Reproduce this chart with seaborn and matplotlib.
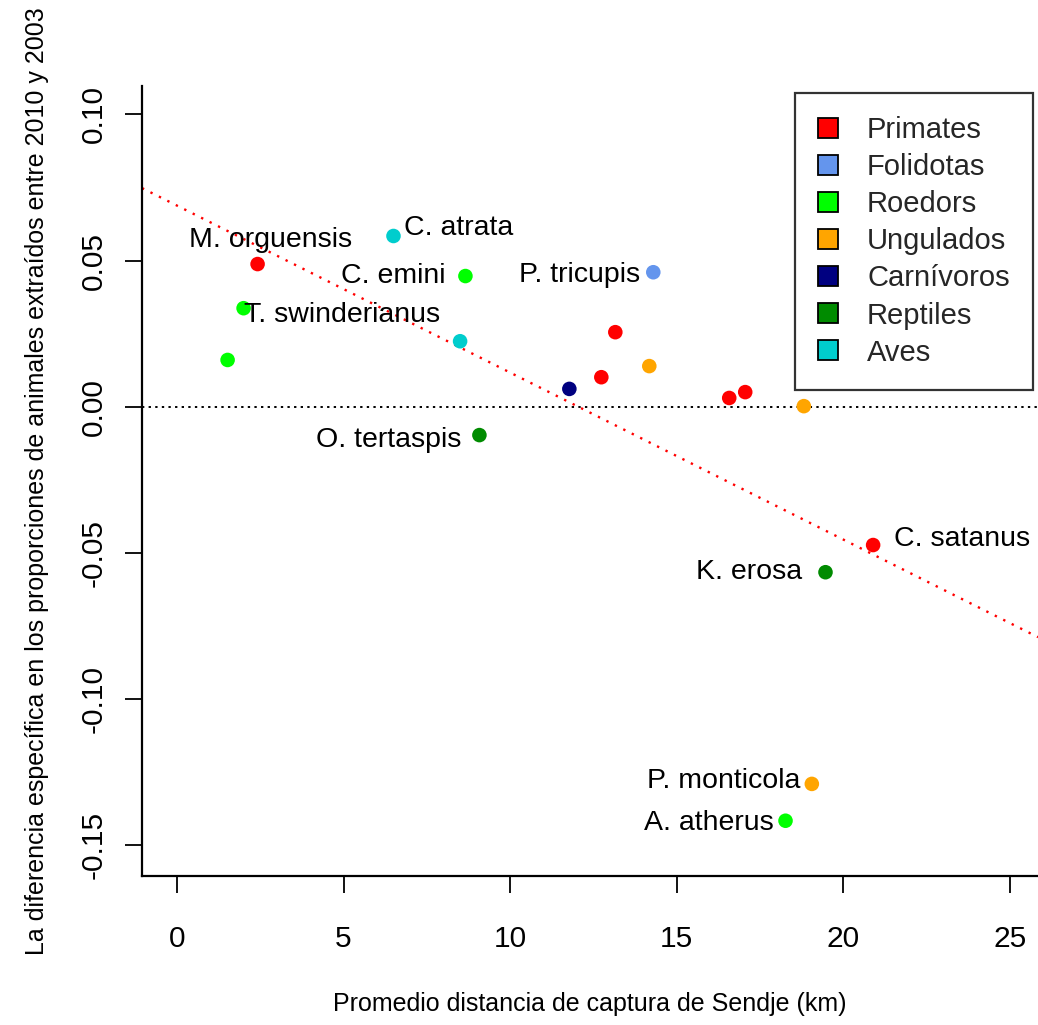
import matplotlib
matplotlib.use("Agg")
import matplotlib.pyplot as plt
from matplotlib.patches import Patch, Rectangle
from matplotlib.legend_handler import HandlerPatch
import seaborn as sns
import pandas as pd

# Mean capture distance from Sendje (km) and change in extracted proportion
distance_km = [2.42, 6.5, 8.66, 14.3, 2.0, 1.52, 8.5, 13.16, 14.18, 12.74,
               11.78, 16.58, 17.06, 18.82, 9.08, 20.9, 19.47, 19.06, 18.27]
prop_change = [0.0488, 0.0584, 0.0447, 0.0460, 0.0337, 0.0160, 0.0224, 0.0255,
               0.0139, 0.0101, 0.0061, 0.0030, 0.0050, 0.0002, -0.0097,
               -0.0473, -0.0566, -0.1290, -0.1416]
group = ["Primates", "Aves", "Roedors", "Folidotas", "Roedors", "Roedors", "Aves",
         "Primates", "Ungulados", "Primates", "Carnívoros", "Primates", "Primates",
         "Ungulados", "Reptiles", "Primates", "Reptiles", "Ungulados", "Roedors"]
species = ["M. orguensis", "C. atrata", "C. emini", "P. tricupis", "T. swinderianus",
           "", "", "", "", "", "", "", "", "", "O. tertaspis", "C. satanus",
           "K. erosa", "P. monticola", "A. atherus"]

groups = ["Primates", "Folidotas", "Roedors", "Ungulados", "Carnívoros", "Reptiles", "Aves"]
group_colors = ["#FF0000", "#6495ED", "#00FF00", "#FFA500", "#000080", "#008B00", "#00CDCD"]

# Linear fit of change against distance
fit_intercept = 0.0688
fit_slope = -0.00571

df = pd.DataFrame({"dist": distance_km, "change": prop_change, "group": group,
                   "species": species})

sns.set_theme(style="white")
plt.rcParams["font.family"] = ["Liberation Sans", "DejaVu Sans"]

W, H = 1038, 1025
fig = plt.figure(figsize=(W / 100, H / 100), dpi=100)
ax = fig.add_axes([142 / W, 1 - 876 / H, 1 - 142 / W, (876 - 86) / H])

sns.scatterplot(data=df, x="dist", y="change", hue="group", hue_order=groups,
                palette=dict(zip(groups, group_colors)), s=110, linewidth=0,
                legend=False, ax=ax, zorder=3)

ax.axhline(0, color="black", linestyle=(0, (1.2, 2.2)), linewidth=1.4, zorder=1)
ax.axline((0, fit_intercept), slope=fit_slope, color="#FF0000",
          linestyle=(0, (1.0, 3.0)), linewidth=1.7, zorder=1)

# Species names beside their points: (ha, dx, dy) in pixels
label_offsets = {
    "M. orguensis": ("right", 95, 24),
    "C. atrata": ("left", 11, 8),
    "C. emini": ("right", -20, 0),
    "P. tricupis": ("right", -13, -3),
    "T. swinderianus": ("left", 0, -7),
    "O. tertaspis": ("right", -18, -5),
    "C. satanus": ("left", 21, 6),
    "K. erosa": ("right", -23, 0),
    "P. monticola": ("right", -11, 3),
    "A. atherus": ("right", -12, -2),
}
for x, y, name in zip(distance_km, prop_change, species):
    if not name:
        continue
    ha, dx, dy = label_offsets[name]
    ax.annotate(name, (x, y), xytext=(dx * 0.72, dy * 0.72), textcoords="offset points",
                ha=ha, va="center", fontsize=20.5, color="black")

ax.set_xlim(-1.05, 25.85)
ax.set_ylim(-0.1605, 0.1097)
ax.set_xticks([0, 5, 10, 15, 20, 25])
ax.set_xticklabels(["0", "5", "10", "15", "20", "25"])
ax.set_yticks([-0.15, -0.10, -0.05, 0.00, 0.05, 0.10])
ax.set_yticklabels(["-0.15", "-0.10", "-0.05", "0.00", "0.05", "0.10"])

for side in ["top", "right"]:
    ax.spines[side].set_visible(False)
for side in ["left", "bottom"]:
    ax.spines[side].set_color("black")
    ax.spines[side].set_linewidth(1.6)

ax.tick_params(axis="both", direction="out", length=12.5, width=1.3, color="black",
               labelsize=21.5, labelcolor="black", left=True, bottom=True)
ax.tick_params(axis="x", pad=23)
ax.tick_params(axis="y", pad=12)
for lab in ax.get_yticklabels():
    lab.set_rotation(90)
    lab.set_va("center")
    lab.set_ha("right")

ax.set_xlabel("Promedio distancia de captura de Sendje (km)", fontsize=18, labelpad=28,
              color="black")
ax.set_ylabel("La diferencia específica en los proporciones de animales extraídos entre 2010 y 2003",
              fontsize=18, labelpad=22, color="black")


def square_handle(legend, orig_handle, xdescent, ydescent, width, height, fontsize):
    s = height
    return Rectangle((-xdescent + width - s, -ydescent + (height - s) / 2), s, s)


handles = [Patch(facecolor=c, edgecolor="black", linewidth=1.3, label=g)
           for g, c in zip(groups, group_colors)]
leg = fig.legend(handles=handles, loc="upper right",
                 bbox_to_anchor=(1033 / W, 1 - 93 / H), bbox_transform=fig.transFigure,
                 fontsize=21, frameon=True, fancybox=False, shadow=False,
                 borderpad=0.8, borderaxespad=0, handlelength=0.68, handleheight=0.68,
                 handletextpad=1.0, labelspacing=0.31,
                 handler_map={Patch: HandlerPatch(patch_func=square_handle)})
leg.get_frame().set_edgecolor("black")
leg.get_frame().set_linewidth(1.6)
leg.get_frame().set_facecolor("white")

fig.savefig("out.png", dpi=100, facecolor="white")
